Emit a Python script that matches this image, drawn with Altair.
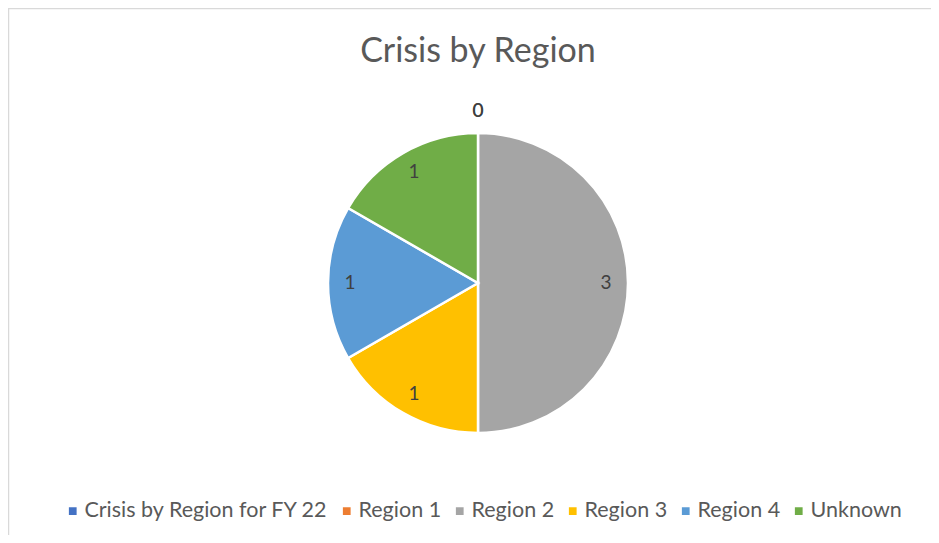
import altair as alt
import pandas as pd

categories = ["Crisis by Region for FY 22", "Region 1", "Region 2", "Region 3", "Region 4", "Unknown"]
values = [0, 0, 3, 1, 1, 1]
colors = ["#4472C4", "#ED7D31", "#A5A5A5", "#FFC000", "#5B9BD5", "#70AD47"]

df = pd.DataFrame({"category": categories, "value": values, "idx": list(range(len(categories)))})

FONT = "Lato"
W, H = 300, 300
L, T = 320, 125
R = 923 - L - W
B = 527 - T - H

base = alt.Chart(df).encode(
    theta=alt.Theta("value:Q", stack=True),
    order=alt.Order("idx:Q"),
)

pie = base.mark_arc(outerRadius=150, stroke="white", strokeWidth=2.5).encode(
    color=alt.Color(
        "category:N",
        scale=alt.Scale(domain=categories, range=colors),
        sort=categories,
        legend=alt.Legend(
            title=None,
            orient="none",
            direction="horizontal",
            legendX=-266,
            legendY=367,
            symbolType="square",
            symbolSize=60,
            symbolStrokeWidth=0,
            labelFont=FONT,
            labelFontSize=21.5,
            labelColor="#595959",
            columnPadding=7,
            symbolOffset=0,
            labelOffset=1,
            labelLimit=400,
        ),
    )
)

inner = base.mark_text(radius=128, font=FONT, fontSize=19, color="#404040").encode(
    text=alt.Text("value:Q")
).transform_filter(alt.datum.value > 0)

outer = base.mark_text(radius=172, font=FONT, fontSize=19, color="#404040").encode(
    text=alt.Text("value:Q")
).transform_filter(alt.datum.value == 0)

frame_df = pd.DataFrame({"k": [0]})
frame = alt.Chart(frame_df).mark_rect(
    fill="white", fillOpacity=0, stroke="#d9d9d9", strokeWidth=1.5, clip=False
).encode(
    x=alt.value(-L + 0.5), y=alt.value(-T + 0.5), x2=alt.value(W + R + 200), y2=alt.value(H + B + 200)
)

chart = alt.layer(frame, pie, inner, outer).properties(
    width=W,
    height=H,
    padding={"left": L, "top": T, "right": R, "bottom": B},
    autosize=alt.AutoSizeParams(type="none"),
    title=alt.Title(
        "Crisis by Region",
        font=FONT,
        fontSize=34,
        fontWeight="normal",
        color="#595959",
        anchor="middle",
        frame="group",
        offset=-61,
    ),
).configure(background="white", view=alt.ViewConfig(stroke="transparent", strokeWidth=0))

chart.save("out.html", embed_options={"renderer": "svg", "actions": False})
